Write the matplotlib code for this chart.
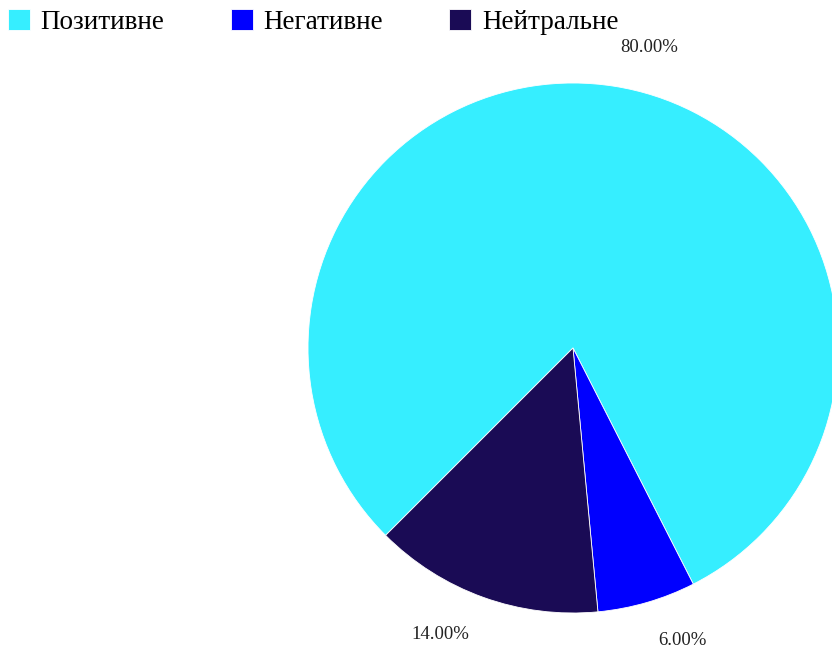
import matplotlib.pyplot as plt

# sentiment shares
categories = ['Позитивне', 'Негативне', 'Нейтральне']
shares = [80.0, 6.0, 14.0]
colors = ['#36EEFF', '#0000FF', '#1A0B55']
pct_labels = [f'{v:.2f}%' for v in shares]

plt.rcParams['font.family'] = ['Liberation Serif', 'DejaVu Serif']

fig = plt.figure(figsize=(8.32, 6.55), dpi=100)
ax = fig.add_axes([0, 0, 1, 1])

cx, cy = 573, 307
wedges, texts = ax.pie(
    shares, colors=colors, labels=pct_labels,
    center=(cx, cy), radius=265,
    startangle=225, counterclock=False,
    labeldistance=1.15,
    wedgeprops=dict(edgecolor='white', linewidth=0.6),
    textprops=dict(fontsize=13.5, color='#222222'),
    frame=True,
)
# pie picks alignment from the sign of x, which is wrong with an offset centre
for t in texts:
    t.set_ha('left' if t.get_position()[0] > cx else 'right')

ax.set_xlim(0, 832)
ax.set_ylim(0, 655)
ax.axis('off')

ax.legend(wedges, categories, ncol=3, loc='upper left',
          bbox_to_anchor=(-0.013, 1.015), frameon=False,
          fontsize=19.5, handlelength=0.8, handleheight=0.8,
          handletextpad=0.4, columnspacing=2.45, borderaxespad=0.3)

plt.savefig('out.png', dpi=100)
